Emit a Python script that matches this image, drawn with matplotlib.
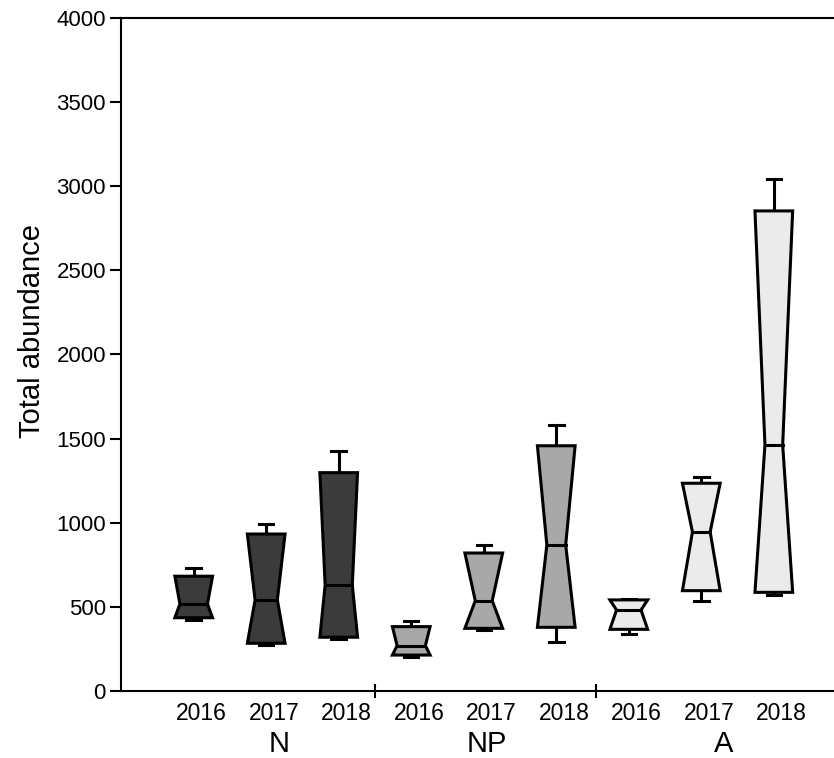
import numpy as np
import matplotlib.pyplot as plt

plt.rcParams.update({
    'font.family': 'Liberation Sans',
    'axes.linewidth': 1.5,
})

# groups and sampling years
groups = ['N', 'NP', 'A']
years = ['2016', '2017', '2018']

# box statistics per group, one value per year
q_min = {'N': [421, 274, 309], 'NP': [202, 363, 290], 'A': [337, 535, 571]}
q1 = {'N': [434, 282, 318], 'NP': [212, 371, 377], 'A': [365, 595, 585]}
median = {'N': [516, 540, 629], 'NP': [268, 535, 867], 'A': [480, 944, 1462]}
q3 = {'N': [681, 932, 1297], 'NP': [381, 819, 1457], 'A': [540, 1234, 2854]}
q_max = {'N': [728, 990, 1428], 'NP': [416, 869, 1581], 'A': [545, 1273, 3044]}
# width of the notch at the median, relative to the box width
notch_width = {'N': [0.73, 0.59, 0.72], 'NP': [0.75, 0.45, 0.5], 'A': [0.65, 0.47, 0.47]}

colors = {'N': '#3b3b3b', 'NP': '#a8a8a8', 'A': '#ebebeb'}

box_w = 0.52
cap_w = 0.2
lw = 2.2

fig = plt.figure(figsize=(8.34, 7.58), dpi=100)
ax = fig.add_axes([0.1453, 0.0888, 0.8547, 0.8871])

positions = []
pos = 1
for g in groups:
    for i in range(len(years)):
        lo, a, m, b, hi = q_min[g][i], q1[g][i], median[g][i], q3[g][i], q_max[g][i]
        nw = notch_width[g][i] * box_w
        # whiskers and caps
        ax.plot([pos, pos], [b, hi], color='black', lw=lw, zorder=1, solid_capstyle='butt')
        ax.plot([pos, pos], [lo, a], color='black', lw=lw, zorder=1, solid_capstyle='butt')
        ax.plot([pos - cap_w / 2, pos + cap_w / 2], [hi, hi], color='black', lw=lw, zorder=1)
        ax.plot([pos - cap_w / 2, pos + cap_w / 2], [lo, lo], color='black', lw=lw, zorder=1)
        # notched box
        xs = [pos - box_w / 2, pos + box_w / 2, pos + nw / 2, pos + box_w / 2, pos - box_w / 2, pos - nw / 2]
        ys = [a, a, m, b, b, m]
        ax.fill(xs, ys, facecolor=colors[g], edgecolor='black', lw=lw, joinstyle='miter', zorder=2)
        ax.plot([pos - nw / 2, pos + nw / 2], [m, m], color='black', lw=lw, zorder=3)
        positions.append(pos)
        pos += 1

ax.set_xlim(0, 9.83)
ax.set_ylim(0, 4000)
ax.set_yticks(np.arange(0, 4001, 500))
ax.tick_params(axis='y', labelsize=16, length=8, width=1.5, pad=3)

# year labels sit a touch right of the boxes
ax.set_xticks([p + 0.11 for p in positions])
ax.set_xticklabels(years * len(groups))
ax.tick_params(axis='x', which='major', length=0, labelsize=16.5, pad=8)
ax.set_xticks([3.5, 6.55], minor=True)
ax.tick_params(axis='x', which='minor', direction='inout', length=10, width=1.5)

ax.spines['right'].set_visible(False)

group_x = [2.18, 5.04, 8.31]
for g, gx in zip(groups, group_x):
    ax.annotate(g, xy=(gx, 0), xycoords=('data', 'axes fraction'),
                xytext=(0, -44), textcoords='offset points',
                ha='center', va='baseline', fontsize=21)

ax.set_ylabel('Total abundance', fontsize=21)
ax.yaxis.set_label_coords(-0.106, 0.535)

plt.savefig('out.png', dpi=100)
